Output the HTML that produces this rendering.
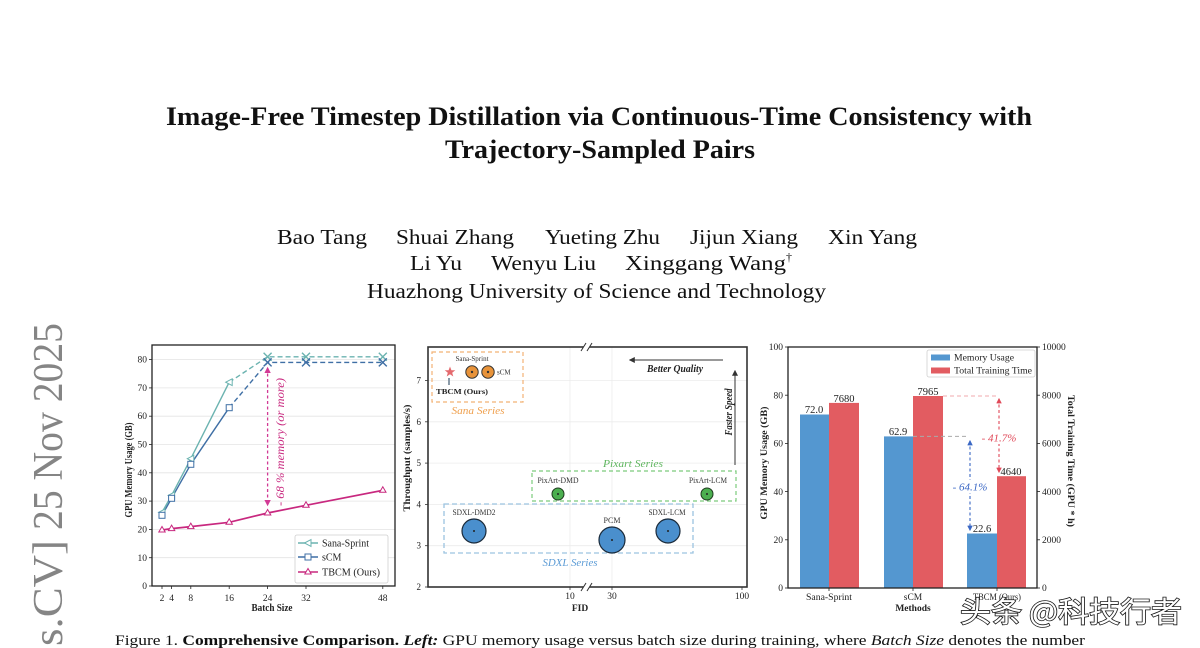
<!DOCTYPE html>
<html><head><meta charset="utf-8"><style>
html,body{margin:0;padding:0;background:#fff;width:1200px;height:648px;overflow:hidden;}
svg{display:block;}
text{font-family:"Liberation Serif","Noto Serif CJK SC",serif;}
</style></head><body>
<svg width="1200" height="648" viewBox="0 0 1200 648" xmlns="http://www.w3.org/2000/svg" overflow="hidden">
<defs>
<marker id="amg" viewBox="0 0 10 10" refX="8" refY="5" markerWidth="5" markerHeight="5" orient="auto-start-reverse"><path d="M0,0 L10,5 L0,10 z" fill="#d23a95"/></marker>
<marker id="abl" viewBox="0 0 10 10" refX="8" refY="5" markerWidth="5" markerHeight="5" orient="auto-start-reverse"><path d="M0,0 L10,5 L0,10 z" fill="#3a67c4"/></marker>
<marker id="ard" viewBox="0 0 10 10" refX="8" refY="5" markerWidth="5" markerHeight="5" orient="auto-start-reverse"><path d="M0,0 L10,5 L0,10 z" fill="#e04858"/></marker>
<marker id="abk" viewBox="0 0 10 10" refX="8" refY="5" markerWidth="6" markerHeight="6" orient="auto-start-reverse"><path d="M0,0 L10,5 L0,10 z" fill="#333"/></marker>
</defs>
<rect width="1200" height="648" fill="#fff"/>

<!-- Title -->
<text x="166" y="125" font-size="26" font-weight="bold" textLength="866" lengthAdjust="spacingAndGlyphs" fill="#111">Image-Free Timestep Distillation via Continuous-Time Consistency with</text>
<text x="445" y="158" font-size="26" font-weight="bold" textLength="310" lengthAdjust="spacingAndGlyphs" fill="#111">Trajectory-Sampled Pairs</text>

<!-- Authors -->
<g font-size="21" fill="#111">
<text x="277" y="244" textLength="90" lengthAdjust="spacingAndGlyphs">Bao Tang</text>
<text x="396" y="244" textLength="118" lengthAdjust="spacingAndGlyphs">Shuai Zhang</text>
<text x="545" y="244" textLength="115" lengthAdjust="spacingAndGlyphs">Yueting Zhu</text>
<text x="690" y="244" textLength="108" lengthAdjust="spacingAndGlyphs">Jijun Xiang</text>
<text x="828" y="244" textLength="89" lengthAdjust="spacingAndGlyphs">Xin Yang</text>
<text x="410" y="270" textLength="52" lengthAdjust="spacingAndGlyphs">Li Yu</text>
<text x="491" y="270" textLength="105" lengthAdjust="spacingAndGlyphs">Wenyu Liu</text>
<text x="625" y="270" textLength="161" lengthAdjust="spacingAndGlyphs">Xinggang Wang</text>
<text x="786" y="261" font-size="12">†</text>
<text x="367" y="298" textLength="459" lengthAdjust="spacingAndGlyphs">Huazhong University of Science and Technology</text>
</g>

<!-- arXiv stamp -->
<g fill="#858585" font-size="42">
<text transform="translate(62,323) rotate(-90)" text-anchor="end" textLength="207" lengthAdjust="spacingAndGlyphs">25 Nov 2025</text>
<text transform="translate(62,540) rotate(-90)" text-anchor="end" textLength="106" lengthAdjust="spacingAndGlyphs">s.CV]</text>
</g>

<!-- ================= LEFT CHART ================= -->
<g>
<g stroke="#e4e4e4" stroke-width="0.8">
<line x1="152" y1="557.7" x2="395" y2="557.7"/>
<line x1="152" y1="529.4" x2="395" y2="529.4"/>
<line x1="152" y1="501.1" x2="395" y2="501.1"/>
<line x1="152" y1="472.8" x2="395" y2="472.8"/>
<line x1="152" y1="444.5" x2="395" y2="444.5"/>
<line x1="152" y1="416.2" x2="395" y2="416.2"/>
<line x1="152" y1="387.9" x2="395" y2="387.9"/>
<line x1="152" y1="359.6" x2="395" y2="359.6"/>
</g>
<rect x="152" y="345" width="243" height="241" fill="none" stroke="#222" stroke-width="1.3"/>
<g stroke="#222" stroke-width="0.8">
<line x1="149" y1="586" x2="152" y2="586"/><line x1="149" y1="557.7" x2="152" y2="557.7"/>
<line x1="149" y1="529.4" x2="152" y2="529.4"/><line x1="149" y1="501.1" x2="152" y2="501.1"/>
<line x1="149" y1="472.8" x2="152" y2="472.8"/><line x1="149" y1="444.5" x2="152" y2="444.5"/>
<line x1="149" y1="416.2" x2="152" y2="416.2"/><line x1="149" y1="387.9" x2="152" y2="387.9"/>
<line x1="149" y1="359.6" x2="152" y2="359.6"/>
<line x1="162" y1="586" x2="162" y2="589"/><line x1="171.6" y1="586" x2="171.6" y2="589"/>
<line x1="190.8" y1="586" x2="190.8" y2="589"/><line x1="229.2" y1="586" x2="229.2" y2="589"/>
<line x1="267.6" y1="586" x2="267.6" y2="589"/><line x1="306" y1="586" x2="306" y2="589"/>
<line x1="382.8" y1="586" x2="382.8" y2="589"/>
</g>
<g font-size="9.5" fill="#222" text-anchor="end">
<text x="147" y="589">0</text><text x="147" y="561">10</text><text x="147" y="532.5">20</text>
<text x="147" y="504">30</text><text x="147" y="476">40</text><text x="147" y="447.5">50</text>
<text x="147" y="419">60</text><text x="147" y="391">70</text><text x="147" y="362.5">80</text>
</g>
<g font-size="9.5" fill="#222" text-anchor="middle">
<text x="162" y="601">2</text><text x="171.6" y="601">4</text><text x="190.8" y="601">8</text>
<text x="229.2" y="601">16</text><text x="267.6" y="601">24</text><text x="306" y="601">32</text>
<text x="382.8" y="601">48</text>
</g>
<text x="272" y="611" font-size="10" font-weight="bold" text-anchor="middle" textLength="41" lengthAdjust="spacingAndGlyphs" fill="#222">Batch Size</text>
<text transform="translate(132,470) rotate(-90)" font-size="10" font-weight="bold" text-anchor="middle" textLength="95" lengthAdjust="spacingAndGlyphs" fill="#222">GPU Memory Usage (GB)</text>

<!-- series -->
<polyline points="162,512.4 171.6,495.4 190.8,458.7 229.2,382.2" fill="none" stroke="#6bb3b0" stroke-width="1.4"/>
<polyline points="229.2,382.2 267.6,356.8 306,356.8 382.8,356.8" fill="none" stroke="#6bb3b0" stroke-width="1.4" stroke-dasharray="5,3"/>
<polyline points="162,515.3 171.6,498.3 190.8,464.3 229.2,407.7" fill="none" stroke="#3f6fa5" stroke-width="1.4"/>
<polyline points="229.2,407.7 267.6,362.4 306,362.4 382.8,362.4" fill="none" stroke="#3f6fa5" stroke-width="1.4" stroke-dasharray="5,3"/>
<polyline points="162,530 171.6,528.6 190.8,526.6 229.2,522.3 267.6,513 306,505.3 382.8,490.3" fill="none" stroke="#c8287f" stroke-width="1.7"/>
<!-- markers -->
<g fill="#fff" stroke="#6bb3b0" stroke-width="1">
<polygon points="158.5,512.4 165,509 165,515.8"/>
<polygon points="168.1,495.4 174.6,492 174.6,498.8"/>
<polygon points="187.3,458.7 193.8,455.3 193.8,462.1"/>
<polygon points="225.7,382.2 232.2,378.8 232.2,385.6"/>
</g>
<g fill="#fff" stroke="#3f6fa5" stroke-width="1">
<rect x="159" y="512.3" width="6" height="6"/>
<rect x="168.6" y="495.3" width="6" height="6"/>
<rect x="187.8" y="461.3" width="6" height="6"/>
<rect x="226.2" y="404.7" width="6" height="6"/>
</g>
<g stroke="#6bb3b0" stroke-width="1.4">
<path d="M263.6,352.8 l8,8 M271.6,352.8 l-8,8"/>
<path d="M302,352.8 l8,8 M310,352.8 l-8,8"/>
<path d="M378.8,352.8 l8,8 M386.8,352.8 l-8,8"/>
</g>
<g stroke="#3f6fa5" stroke-width="1.4">
<path d="M263.6,358.4 l8,8 M271.6,358.4 l-8,8"/>
<path d="M302,358.4 l8,8 M310,358.4 l-8,8"/>
<path d="M378.8,358.4 l8,8 M386.8,358.4 l-8,8"/>
</g>
<g fill="#fff" stroke="#c8287f" stroke-width="1">
<polygon points="162,526.5 158.8,532 165.2,532"/>
<polygon points="171.6,525.1 168.4,530.6 174.8,530.6"/>
<polygon points="190.8,523.1 187.6,528.6 194,528.6"/>
<polygon points="229.2,518.8 226,524.3 232.4,524.3"/>
<polygon points="267.6,509.5 264.4,515 270.8,515"/>
<polygon points="306,501.8 302.8,507.3 309.2,507.3"/>
<polygon points="382.8,486.8 379.6,492.3 386,492.3"/>
</g>
<!-- annotation arrow -->
<line x1="267.6" y1="368" x2="267.6" y2="505" stroke="#d23a95" stroke-width="1.3" stroke-dasharray="3,2.5" marker-start="url(#amg)" marker-end="url(#amg)"/>
<text transform="translate(284,506) rotate(-90)" font-size="11.5" font-style="italic" fill="#c8287f" textLength="128" lengthAdjust="spacingAndGlyphs">- 68 % memory (or more)</text>
<!-- legend -->
<rect x="295" y="535" width="93" height="48" fill="#fff" stroke="#cfcfcf" stroke-width="0.8" rx="2"/>
<line x1="298" y1="543" x2="318" y2="543" stroke="#6bb3b0" stroke-width="1.4"/>
<polygon points="304.5,543 311,539.6 311,546.4" fill="#fff" stroke="#6bb3b0" stroke-width="1"/>
<line x1="298" y1="557" x2="318" y2="557" stroke="#3f6fa5" stroke-width="1.4"/>
<rect x="305" y="554" width="6" height="6" fill="#fff" stroke="#3f6fa5" stroke-width="1"/>
<line x1="298" y1="572" x2="318" y2="572" stroke="#c8287f" stroke-width="1.6"/>
<polygon points="308,568.5 304.8,574 311.2,574" fill="#fff" stroke="#c8287f" stroke-width="1"/>
<g font-size="10" fill="#222">
<text x="322" y="546.5" textLength="47" lengthAdjust="spacingAndGlyphs">Sana-Sprint</text>
<text x="322" y="560.5">sCM</text>
<text x="322" y="575.5" textLength="58" lengthAdjust="spacingAndGlyphs">TBCM (Ours)</text>
</g>
</g>

<!-- ================= MIDDLE CHART ================= -->
<g>
<g stroke="#ececec" stroke-width="0.8">
<line x1="428" y1="545.7" x2="747" y2="545.7"/>
<line x1="428" y1="504.4" x2="747" y2="504.4"/>
<line x1="428" y1="463.1" x2="747" y2="463.1"/>
<line x1="428" y1="421.8" x2="747" y2="421.8"/>
<line x1="428" y1="380.5" x2="747" y2="380.5"/>
<line x1="570" y1="347" x2="570" y2="587"/>
<line x1="612" y1="347" x2="612" y2="587"/>
</g>
<rect x="428" y="347" width="319" height="240" fill="none" stroke="#333" stroke-width="1.6"/>
<!-- axis break -->
<rect x="583.5" y="343" width="6" height="8" fill="#fff"/>
<rect x="583.5" y="583" width="6" height="8" fill="#fff"/>
<g stroke="#333" stroke-width="1">
<line x1="581" y1="351" x2="586" y2="343"/><line x1="587" y1="351" x2="592" y2="343"/>
<line x1="581" y1="591" x2="586" y2="583"/><line x1="587" y1="591" x2="592" y2="583"/>
</g>
<g stroke="#333" stroke-width="0.8">
<line x1="425" y1="587" x2="428" y2="587"/><line x1="425" y1="545.7" x2="428" y2="545.7"/>
<line x1="425" y1="504.4" x2="428" y2="504.4"/><line x1="425" y1="463.1" x2="428" y2="463.1"/>
<line x1="425" y1="421.8" x2="428" y2="421.8"/><line x1="425" y1="380.5" x2="428" y2="380.5"/>
<line x1="570" y1="587" x2="570" y2="590"/><line x1="612" y1="587" x2="612" y2="590"/>
<line x1="742" y1="587" x2="742" y2="590"/>
</g>
<g font-size="9" fill="#222" text-anchor="end">
<text x="421" y="590">2</text><text x="421" y="548.7">3</text><text x="421" y="507.4">4</text>
<text x="421" y="466.1">5</text><text x="421" y="424.8">6</text><text x="421" y="383.5">7</text>
</g>
<g font-size="9.5" fill="#222" text-anchor="middle">
<text x="570" y="599">10</text><text x="612" y="599">30</text><text x="742" y="599">100</text>
</g>
<text x="580" y="611" font-size="9.5" font-weight="bold" text-anchor="middle" fill="#222">FID</text>
<text transform="translate(410,458) rotate(-90)" font-size="9.5" font-weight="bold" text-anchor="middle" textLength="107" lengthAdjust="spacingAndGlyphs" fill="#222">Throughput (samples/s)</text>

<!-- Sana box -->
<rect x="432" y="352" width="91" height="50" fill="none" stroke="#f2b274" stroke-width="1.2" stroke-dasharray="4,3"/>
<text x="478" y="414" font-size="11" font-style="italic" fill="#efa04e" text-anchor="middle" textLength="53" lengthAdjust="spacingAndGlyphs">Sana Series</text>
<text x="472" y="361" font-size="7" fill="#333" text-anchor="middle">Sana-Sprint</text>
<polygon points="450,366.5 451.4,370.2 455.3,370.3 452.2,372.7 453.3,376.5 450,374.3 446.7,376.5 447.8,372.7 444.7,370.3 448.6,370.2" fill="#e46a6e"/>
<circle cx="472" cy="372" r="6.2" fill="#e8933a" stroke="#333" stroke-width="1"/>
<circle cx="472" cy="372" r="1.2" fill="#333"/>
<circle cx="488" cy="372" r="6.2" fill="#e8933a" stroke="#333" stroke-width="1"/>
<circle cx="488" cy="372" r="1.2" fill="#333"/>
<text x="497" y="374.5" font-size="7" fill="#333">sCM</text>
<line x1="449" y1="378" x2="449" y2="385" stroke="#8a9aa8" stroke-width="2"/>
<text x="436" y="394" font-size="7" font-weight="bold" fill="#222" textLength="52" lengthAdjust="spacingAndGlyphs">TBCM  (Ours)</text>

<!-- quality / speed arrows -->
<line x1="723" y1="360" x2="630" y2="360" stroke="#333" stroke-width="1" marker-end="url(#abk)"/>
<text x="675" y="372" font-size="10" font-style="italic" font-weight="bold" fill="#222" text-anchor="middle" textLength="56" lengthAdjust="spacingAndGlyphs">Better Quality</text>
<line x1="735" y1="465" x2="735" y2="371" stroke="#333" stroke-width="1" marker-end="url(#abk)"/>
<text transform="translate(732,412) rotate(-90)" font-size="10" font-style="italic" font-weight="bold" fill="#222" text-anchor="middle" textLength="47" lengthAdjust="spacingAndGlyphs">Faster Speed</text>

<!-- Pixart box -->
<rect x="532" y="471" width="204" height="30" fill="none" stroke="#7ccb7c" stroke-width="1.2" stroke-dasharray="4,3"/>
<text x="633" y="467" font-size="11" font-style="italic" fill="#5fb65f" text-anchor="middle" textLength="60" lengthAdjust="spacingAndGlyphs">Pixart Series</text>
<text x="558" y="483" font-size="8" fill="#333" text-anchor="middle" textLength="41" lengthAdjust="spacingAndGlyphs">PixArt-DMD</text>
<text x="708" y="483" font-size="8" fill="#333" text-anchor="middle" textLength="38" lengthAdjust="spacingAndGlyphs">PixArt-LCM</text>
<circle cx="558" cy="494" r="6" fill="#4caf50" stroke="#1f3a1f" stroke-width="1"/>
<circle cx="558" cy="494" r="1" fill="#222"/>
<circle cx="707" cy="494" r="6" fill="#4caf50" stroke="#1f3a1f" stroke-width="1"/>
<circle cx="707" cy="494" r="1" fill="#222"/>

<!-- SDXL box -->
<rect x="444" y="504" width="249" height="49" fill="none" stroke="#9cc3e0" stroke-width="1.3" stroke-dasharray="5,3"/>
<text x="570" y="566" font-size="11" font-style="italic" fill="#5b9bd5" text-anchor="middle" textLength="55" lengthAdjust="spacingAndGlyphs">SDXL Series</text>
<text x="474" y="515" font-size="8" fill="#333" text-anchor="middle" textLength="43" lengthAdjust="spacingAndGlyphs">SDXL-DMD2</text>
<text x="612" y="523" font-size="8" fill="#333" text-anchor="middle">PCM</text>
<text x="667" y="515" font-size="8" fill="#333" text-anchor="middle" textLength="37" lengthAdjust="spacingAndGlyphs">SDXL-LCM</text>
<circle cx="474" cy="531" r="12" fill="#4a8fcd" stroke="#1a2a3a" stroke-width="1.2"/>
<circle cx="474" cy="531" r="1" fill="#222"/>
<circle cx="612" cy="540" r="13" fill="#4a8fcd" stroke="#1a2a3a" stroke-width="1.2"/>
<circle cx="612" cy="540" r="1" fill="#222"/>
<circle cx="668" cy="531" r="12" fill="#4a8fcd" stroke="#1a2a3a" stroke-width="1.2"/>
<circle cx="668" cy="531" r="1" fill="#222"/>
</g>

<!-- ================= RIGHT CHART ================= -->
<g>
<rect x="800" y="414.5" width="29" height="173.5" fill="#5497d0"/>
<rect x="829" y="402.9" width="30" height="185.1" fill="#e25c61"/>
<rect x="884" y="436.4" width="29" height="151.6" fill="#5497d0"/>
<rect x="913" y="396" width="30" height="192" fill="#e25c61"/>
<rect x="967" y="533.5" width="30" height="54.5" fill="#5497d0"/>
<rect x="997" y="476.2" width="29" height="111.8" fill="#e25c61"/>
<rect x="788" y="347" width="249" height="241" fill="none" stroke="#222" stroke-width="1.3"/>
<g stroke="#222" stroke-width="0.8">
<line x1="785" y1="588" x2="788" y2="588"/><line x1="785" y1="539.8" x2="788" y2="539.8"/>
<line x1="785" y1="491.6" x2="788" y2="491.6"/><line x1="785" y1="443.4" x2="788" y2="443.4"/>
<line x1="785" y1="395.2" x2="788" y2="395.2"/><line x1="785" y1="347" x2="788" y2="347"/>
<line x1="1037" y1="588" x2="1040" y2="588"/><line x1="1037" y1="539.8" x2="1040" y2="539.8"/>
<line x1="1037" y1="491.6" x2="1040" y2="491.6"/><line x1="1037" y1="443.4" x2="1040" y2="443.4"/>
<line x1="1037" y1="395.2" x2="1040" y2="395.2"/><line x1="1037" y1="347" x2="1040" y2="347"/>
<line x1="829" y1="588" x2="829" y2="591"/><line x1="913" y1="588" x2="913" y2="591"/>
<line x1="997" y1="588" x2="997" y2="591"/>
</g>
<g font-size="9.5" fill="#222" text-anchor="end">
<text x="783" y="591">0</text><text x="783" y="543">20</text><text x="783" y="495">40</text>
<text x="783" y="446.5">60</text><text x="783" y="398.5">80</text><text x="783" y="350">100</text>
</g>
<g font-size="9.5" fill="#222">
<text x="1042" y="591">0</text><text x="1042" y="543">2000</text><text x="1042" y="495">4000</text>
<text x="1042" y="446.5">6000</text><text x="1042" y="398.5">8000</text><text x="1042" y="350">10000</text>
</g>
<g font-size="9.5" fill="#222" text-anchor="middle">
<text x="829" y="600" textLength="46" lengthAdjust="spacingAndGlyphs">Sana-Sprint</text>
<text x="913" y="600">sCM</text>
<text x="997" y="600" textLength="48" lengthAdjust="spacingAndGlyphs">TBCM (Ours)</text>
</g>
<text x="913" y="611" font-size="9.5" font-weight="bold" text-anchor="middle" fill="#222">Methods</text>
<text transform="translate(767,463) rotate(-90)" font-size="9.5" font-weight="bold" text-anchor="middle" textLength="113" lengthAdjust="spacingAndGlyphs" fill="#222">GPU Memory Usage (GB)</text>
<text transform="translate(1068,461) rotate(90)" font-size="9.5" font-weight="bold" text-anchor="middle" textLength="132" lengthAdjust="spacingAndGlyphs" fill="#222">Total Training Time (GPU * h)</text>
<g font-size="10.5" fill="#222" text-anchor="middle">
<text x="814" y="413">72.0</text><text x="844" y="402">7680</text>
<text x="898" y="435">62.9</text><text x="928" y="395">7965</text>
<text x="982" y="532">22.6</text><text x="1011" y="475">4640</text>
</g>
<!-- annotations -->
<line x1="913" y1="436.4" x2="969" y2="436.4" stroke="#a9a9a9" stroke-width="1" stroke-dasharray="4,3"/>
<line x1="970" y1="441" x2="970" y2="530" stroke="#3a67c4" stroke-width="1.1" stroke-dasharray="3,2.5" marker-start="url(#abl)" marker-end="url(#abl)"/>
<rect x="953" y="480" width="35" height="13" fill="#fff"/>
<text x="970" y="490.5" font-size="11" font-style="italic" fill="#3a67c4" text-anchor="middle">- 64.1%</text>
<line x1="943" y1="396" x2="998" y2="396" stroke="#f2a8ac" stroke-width="1" stroke-dasharray="4,3"/>
<line x1="999" y1="399" x2="999" y2="472" stroke="#e04858" stroke-width="1.1" stroke-dasharray="3,2.5" marker-start="url(#ard)" marker-end="url(#ard)"/>
<rect x="981" y="431" width="36" height="13" fill="#fff"/>
<text x="999" y="441.5" font-size="11" font-style="italic" fill="#e04858" text-anchor="middle">- 41.7%</text>
<!-- legend -->
<rect x="927" y="350" width="108" height="27" fill="#fff" stroke="#cfcfcf" stroke-width="0.8" rx="2"/>
<rect x="931" y="354.5" width="19" height="6" fill="#5497d0"/>
<rect x="931" y="367.5" width="19" height="6" fill="#e25c61"/>
<g font-size="9.5" fill="#222">
<text x="954" y="360.5" textLength="60" lengthAdjust="spacingAndGlyphs">Memory Usage</text>
<text x="954" y="373.5" textLength="78" lengthAdjust="spacingAndGlyphs">Total Training Time</text>
</g>
</g>

<!-- Watermark -->
<text x="960" y="622" font-size="29" textLength="222" lengthAdjust="spacingAndGlyphs" fill="#fff" stroke="#1a1a1a" stroke-width="1.6" paint-order="stroke" style="font-family:'Noto Sans CJK SC','WenQuanYi Zen Hei',sans-serif;">头条 @科技行者</text>

<!-- Caption (cut off) -->
<text x="115" y="645" font-size="14.5" fill="#111" textLength="970" lengthAdjust="spacingAndGlyphs">Figure 1. <tspan font-weight="bold">Comprehensive Comparison.</tspan> <tspan font-weight="bold" font-style="italic">Left:</tspan> GPU memory usage versus batch size during training, where <tspan font-style="italic">Batch Size</tspan> denotes the number</text>
</svg>
</body></html>
